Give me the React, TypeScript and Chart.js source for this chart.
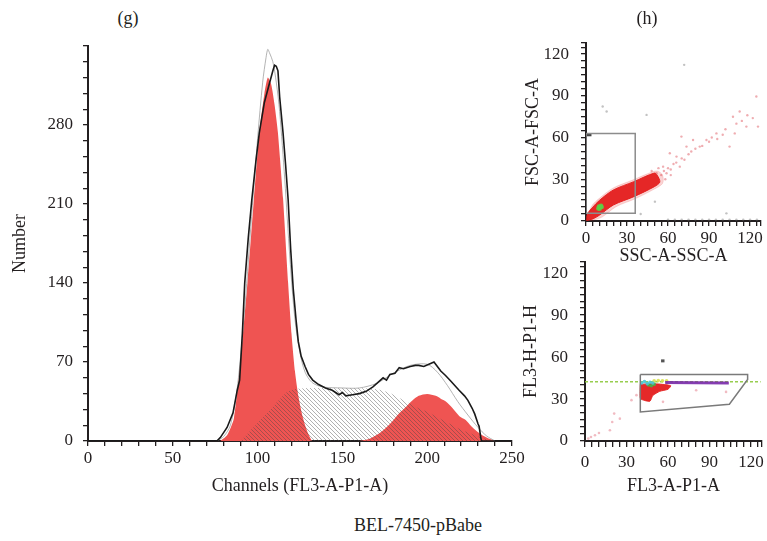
import React, { useEffect, useRef } from "react";
import { Chart, registerables } from "chart.js";

Chart.register(...registerables);

const FONT_FAMILY = "'Liberation Serif', 'Times New Roman', serif";
const INK = "#231f20";
const FS = 17;
const FS_TITLE = 18;

// ---------- (g) DNA content histogram ----------
const HIST_X_LABELS = [0, 50, 100, 150, 200, 250];
const HIST_Y_LABELS = [0, 70, 140, 210, 280];

const TOTAL_CH = [0, 76, 78, 82, 85.5, 88, 89.4, 91, 92.4, 94.5, 96.6, 99, 101, 104, 107, 109, 110, 111, 112, 113, 115, 116.5, 118, 119.5, 121, 122.7, 124, 125.7, 128, 130, 132.5, 136, 140, 144, 148, 150, 152, 156, 160, 164, 168, 171, 174, 176, 178, 181, 183.5, 186, 190, 193, 195, 198, 201, 204, 206, 208, 210.8, 214, 218.8, 222, 224, 226.5, 228, 230, 230.6, 231.6, 232, 250];
const TOTAL_N = [0, 0, 3, 12, 25, 45, 54, 95, 140, 180, 214, 248, 273, 300, 317, 328, 333, 332, 328, 305, 273, 245, 214, 170, 135, 107, 88, 75, 66, 59, 54, 50, 47, 45, 41, 43, 40, 41, 42, 44, 48, 52, 56, 54, 59, 60, 65, 64, 66, 67, 67, 66, 68, 70, 66, 62, 58, 53, 45, 40, 36, 29, 24, 15, 13, 3, 0, 0];

const FIT_CH = [76, 80, 84, 88, 92, 96, 100, 103, 105, 106, 107, 109, 111, 113, 116, 119, 122, 125, 128, 132, 138, 150, 160, 170, 180, 190, 200, 206, 212, 218, 224, 230, 235, 240];
const FIT_N = [0, 4, 14, 47, 110, 190, 268, 318, 340, 347, 344, 336, 318, 292, 232, 163, 108, 78, 61, 52, 48, 47, 47, 51, 60, 67, 68, 61, 49, 35, 23, 12, 4.5, 0];

const G1_CH = [78, 82, 86, 89.8, 94, 97.8, 101, 104, 106, 108, 110, 112, 115, 118, 120, 122, 124, 126, 128, 130, 132];
const G1_N = [0, 5, 20, 70, 140, 214, 273, 308, 322, 316, 298, 273, 215, 140, 95, 62, 40, 25, 14, 6, 0];

const S_CH = [90, 95, 100, 105, 110, 115, 118, 122, 130, 140, 150, 160, 170, 175, 180, 185, 190, 195, 200, 205, 210, 215, 220, 225, 230, 234, 238];
const S_N = [0, 8, 16, 24, 32, 40, 44, 46, 47, 47, 47, 47, 46, 44, 41, 37, 33, 29, 26, 22, 18, 14, 10, 7, 4, 2, 0];

const G2_CH = [160, 166, 172, 178, 183.5, 188, 191.4, 195, 200, 205, 208, 211, 215, 219, 222.7, 226, 230.6, 235, 240];
const G2_N = [0, 2, 7, 15, 24.5, 31, 36, 40, 41.7, 40, 37.5, 35, 29, 22, 18.6, 13, 7, 3, 0];

// ---------- (h) top: FSC vs SSC ----------
const SCAT_LABELS = [0, 30, 60, 90, 120];

const GATE1_X = [0, 36, 36, 0, 0];
const GATE1_Y = [5.5, 5.5, 63, 63, 5.5];
const CORE1_X = [0.5, 5, 10, 20, 35, 50, 54, 52, 50, 35, 20, 10, 5, 1, 0.5];
const CORE1_Y = [0.5, 1.5, 4.3, 11.5, 17.5, 24.7, 28, 33, 34.5, 28.3, 22.3, 15, 10, 5, 0.5];
const HALO1_X = [0, 6, 12, 22, 36, 50, 56, 56, 52, 45, 35, 20, 10, 4, 0];
const HALO1_Y = [0, 0.8, 3, 10.3, 16, 23, 27, 33, 36, 34, 29.8, 23.8, 16.5, 10.5, 0];
const GREEN1_X = [9, 10, 11, 10, 9.5, 11.5];
const GREEN1_Y = [9, 10, 11, 8.8, 10.5, 10];
const SPARSE1_X = [48, 53, 55, 57, 58.9, 60, 61.3, 62, 64, 66, 66.2, 68.6, 69.8, 70, 72, 73.5, 75, 77, 78.3, 80, 83.2, 85, 88.1, 90, 92, 95.4, 96, 100, 102, 105, 107.5, 108.8, 110, 112.4, 114, 117.3, 118, 122, 124.6, 125.8, 56.4, 51.6, 58, 62];
const SPARSE1_Y = [36, 38, 33, 36, 34.3, 38, 48.7, 37, 41, 42, 46.3, 39.1, 60.7, 45, 44, 53.5, 48, 50, 58.3, 52, 53.5, 54, 58.3, 57, 60, 63, 59, 62, 66, 53.5, 75, 63, 70, 78.7, 72, 67.9, 76, 74, 89.5, 67.9, 39.1, 34.3, 30, 33];
const GREY1_X = [71.8, 12.2, 15.1, 44.3, 102.7, 50.4, 40, 60, 65, 70, 75, 80, 85, 90, 95, 100, 105, 110, 115, 120, 125];
const GREY1_Y = [112.3, 82.3, 78.7, 76.3, 5.5, 13.9, 5, 1, 1, 1, 1, 1, 1, 1, 1, 1, 1, 1, 1, 1, 1];
const MARK1_X = [0, 4];
const MARK1_Y = [62, 62];

// ---------- (h) bottom: FL3-H vs FL3-A ----------
const GATE2_X = [40, 117.6, 117.6, 104.4, 40, 40];
const GATE2_Y = [47.6, 47.6, 44, 26.3, 20.8, 47.6];
const MARKER2_X = [0, 127];
const MARKER2_Y = [42.3, 42.3];
const CLUSTER2_X = [40, 48, 56, 62, 60, 54, 49, 47, 43, 40, 40];
const CLUSTER2_Y = [40.5, 41, 40.5, 39.5, 37, 35.5, 32.5, 28.5, 29, 30.5, 40.5];
const PURPLE2_X = [58, 104];
const PURPLE2_Y = [41.8, 41.4];
const CYAN2_X = [41, 43, 45, 47, 49];
const CYAN2_Y = [41.5, 42.5, 41, 42, 41.5];
const GREEN2_X = [46, 48, 50];
const GREEN2_Y = [40, 39.5, 40.5];
const YELLOW2_X = [50, 53, 56, 59];
const YELLOW2_Y = [43, 43.2, 43, 43];
const DIAG2_X = [2.4, 4.3, 7.2, 10.1, 18, 19.7, 21.1, 25.2, 33.6, 37.2, 56.4, 80.4, 102];
const DIAG2_Y = [1.7, 2.9, 4.1, 5.7, 7.7, 13.6, 19.6, 16, 29.2, 32.8, 28, 36.3, 35.1];
const DARK2_X = [55, 57.5];
const DARK2_Y = [57.3, 57.3];

const pts = (xs: number[], ys: number[]) => xs.map((x, i) => ({ x, y: ys[i] }));

function makeHatch(): CanvasPattern | string {
  const c = document.createElement("canvas");
  c.width = 4;
  c.height = 4;
  const g = c.getContext("2d");
  if (!g) return "rgba(120,120,120,0.3)";
  g.strokeStyle = "rgba(70,70,70,0.42)";
  g.lineWidth = 1;
  g.beginPath();
  g.moveTo(0, 0);
  g.lineTo(4, 4);
  g.moveTo(-1, 3);
  g.lineTo(1, 5);
  g.moveTo(3, -1);
  g.lineTo(5, 1);
  g.stroke();
  return g.createPattern(c, "repeat") || "rgba(120,120,120,0.3)";
}

type AxisCfg = {
  min: number;
  max: number;
  step: number;
  labels: number[];
  title: string;
  size: number;
  tickLen: number;
  labelPad: number;
  titlePad: number;
};

function axis(cfg: AxisCfg, horizontal: boolean) {
  return {
    type: "linear",
    bounds: "data",
    min: cfg.min,
    max: cfg.max,
    afterFit: (s: any) => {
      if (horizontal) {
        s.height = cfg.size;
      } else {
        s.width = cfg.size;
        s.paddingTop = 0;
        s.paddingBottom = 0;
      }
    },
    grid: {
      display: true,
      drawOnChartArea: false,
      drawTicks: true,
      tickLength: cfg.tickLen,
      color: INK,
      tickColor: INK,
      lineWidth: 1.3,
    },
    border: { display: true, color: INK, width: 2 },
    ticks: {
      stepSize: cfg.step,
      autoSkip: false,
      includeBounds: false,
      maxRotation: 0,
      minRotation: 0,
      padding: cfg.labelPad,
      color: INK,
      font: { family: FONT_FAMILY, size: FS },
      callback: (v: any) => (cfg.labels.includes(Number(v)) ? String(v) : ""),
    },
    title: {
      display: true,
      text: cfg.title,
      color: INK,
      font: { family: FONT_FAMILY, size: FS_TITLE },
      padding: horizontal ? { top: 0, bottom: 3 } : { top: cfg.titlePad, bottom: 0 },
    },
  };
}

const basePlugins = {
  legend: { display: false },
  tooltip: { enabled: false },
  title: { display: false },
};

function lineDs(data: any[], color: string, width: number, extra: any = {}) {
  return {
    data,
    borderColor: color,
    borderWidth: width,
    pointRadius: 0,
    showLine: true,
    fill: false,
    tension: 0,
    ...extra,
  };
}

function pointDs(data: any[], color: string, radius: number) {
  return {
    data,
    showLine: false,
    pointRadius: radius,
    pointBorderWidth: 0,
    pointBackgroundColor: color,
    pointBorderColor: color,
    backgroundColor: color,
    borderColor: color,
  };
}

export default function App() {
  const histRef = useRef<HTMLCanvasElement>(null);
  const topRef = useRef<HTMLCanvasElement>(null);
  const botRef = useRef<HTMLCanvasElement>(null);

  useEffect(() => {
    const charts: Chart[] = [];
    const RED = "rgb(239, 84, 82)";
    const DENSE = "rgba(228,30,30,0.95)";

    if (histRef.current) {
      const hatch = makeHatch();
      charts.push(
        new Chart(histRef.current, {
          type: "line",
          data: {
            datasets: [
              lineDs(pts(TOTAL_CH, TOTAL_N), "#1a1a1a", 1.6),
              lineDs(pts(FIT_CH, FIT_N), "rgba(160,160,160,0.8)", 1, { tension: 0.3 }),
              lineDs(pts(S_CH, S_N), "rgba(0,0,0,0)", 0, { fill: "origin", backgroundColor: hatch, tension: 0.2 }),
              lineDs(pts(G2_CH, G2_N), RED, 0, { fill: "origin", backgroundColor: RED, tension: 0.3 }),
              lineDs(pts(G1_CH, G1_N), RED, 0, { fill: "origin", backgroundColor: RED, tension: 0.2 }),
            ] as any,
          },
          options: {
            responsive: false,
            animation: false,
            events: [],
            layout: { padding: { left: 0, top: 16, right: 18, bottom: 0 } },
            plugins: basePlugins as any,
            scales: {
              x: axis({ min: 0, max: 250, step: 10, labels: HIST_X_LABELS, title: "Channels (FL3-A-P1-A)", size: 59, tickLen: 5, labelPad: 2, titlePad: 0 }, true) as any,
              y: axis({ min: 0, max: 350, step: 14, labels: HIST_Y_LABELS, title: "Number", size: 88, tickLen: 5, labelPad: 10, titlePad: 9 }, false) as any,
            },
          },
        })
      );
    }

    if (topRef.current) {
      charts.push(
        new Chart(topRef.current, {
          type: "line",
          data: {
            datasets: [
              lineDs(pts(GATE1_X, GATE1_Y), "#8c8c8c", 1.5),
              pointDs(pts(GREEN1_X, GREEN1_Y), "rgba(90,210,70,0.9)", 2.2),
              lineDs(pts(MARK1_X, MARK1_Y), "#444", 3),
              lineDs(pts(CORE1_X, CORE1_Y), DENSE, 1, { fill: "shape", backgroundColor: DENSE, tension: 0.3 }),
              lineDs(pts(HALO1_X, HALO1_Y), "rgba(228,40,40,0.15)", 1, { fill: "shape", backgroundColor: "rgba(228,40,40,0.2)", tension: 0.3 }),
              pointDs(pts(SPARSE1_X, SPARSE1_Y), "rgba(215,50,60,0.4)", 1.2),
              pointDs(pts(GREY1_X, GREY1_Y), "rgba(120,120,120,0.45)", 1.2),
            ] as any,
          },
          options: {
            responsive: false,
            animation: false,
            events: [],
            layout: { padding: { left: 0, top: 13, right: 6, bottom: 0 } },
            plugins: basePlugins as any,
            scales: {
              x: axis({ min: 0, max: 128, step: 5, labels: SCAT_LABELS, title: "SSC-A-SSC-A", size: 49, tickLen: 5, labelPad: 2, titlePad: 0 }, true) as any,
              y: axis({ min: 0, max: 128, step: 5, labels: SCAT_LABELS, title: "FSC-A-FSC-A", size: 71, tickLen: 5, labelPad: 12, titlePad: 7 }, false) as any,
            },
          },
        })
      );
    }

    if (botRef.current) {
      charts.push(
        new Chart(botRef.current, {
          type: "line",
          data: {
            datasets: [
              lineDs(pts(GATE2_X, GATE2_Y), "#7a7a7a", 1.5),
              pointDs(pts(CYAN2_X, CYAN2_Y), "rgba(70,200,215,0.9)", 1.8),
              pointDs(pts(GREEN2_X, GREEN2_Y), "rgba(70,180,70,0.9)", 1.8),
              lineDs(pts(PURPLE2_X, PURPLE2_Y), "rgba(120,40,170,0.9)", 3),
              pointDs(pts(YELLOW2_X, YELLOW2_Y), "rgba(215,225,80,0.9)", 1.8),
              lineDs(pts(DARK2_X, DARK2_Y), "#555", 3),
              lineDs(pts(CLUSTER2_X, CLUSTER2_Y), DENSE, 1, { fill: "shape", backgroundColor: DENSE, tension: 0.2 }),
              lineDs(pts(MARKER2_X, MARKER2_Y), "rgba(140,200,60,0.9)", 1.5, { borderDash: [3, 2] }),
              pointDs(pts(DIAG2_X, DIAG2_Y), "rgba(215,60,80,0.35)", 1.3),
            ] as any,
          },
          options: {
            responsive: false,
            animation: false,
            events: [],
            layout: { padding: { left: 0, top: 7, right: 4, bottom: 0 } },
            plugins: basePlugins as any,
            scales: {
              x: axis({ min: 0, max: 128, step: 5, labels: SCAT_LABELS, title: "FL3-A-P1-A", size: 59, tickLen: 6, labelPad: 5, titlePad: 0 }, true) as any,
              y: axis({ min: 0, max: 128, step: 5, labels: SCAT_LABELS, title: "FL3-H-P1-H", size: 70, tickLen: 5, labelPad: 12, titlePad: 5 }, false) as any,
            },
          },
        })
      );
    }

    return () => charts.forEach((c) => c.destroy());
  }, []);

  const text = (s: string, x: number, y: number) => (
    <div
      style={{
        position: "absolute",
        left: x,
        top: y,
        transform: "translate(-50%, -50%)",
        fontFamily: FONT_FAMILY,
        fontSize: FS_TITLE,
        lineHeight: 1,
        color: INK,
        whiteSpace: "nowrap",
      }}
    >
      {s}
    </div>
  );

  return (
    <div style={{ position: "fixed", left: 0, top: 0, width: 767, height: 541, background: "#fff", overflow: "hidden" }}>
      <canvas ref={histRef} width={530} height={470} style={{ position: "absolute", left: 0, top: 30, width: 530, height: 470 }} />
      <canvas ref={botRef} width={252} height={245} style={{ position: "absolute", left: 515, top: 255, width: 252, height: 245 }} />
      <canvas ref={topRef} width={252} height={240} style={{ position: "absolute", left: 515, top: 30, width: 252, height: 240 }} />
      {text("(g)", 128, 18)}
      {text("(h)", 647, 18)}
      {text("BEL-7450-pBabe", 418, 525)}
    </div>
  );
}
